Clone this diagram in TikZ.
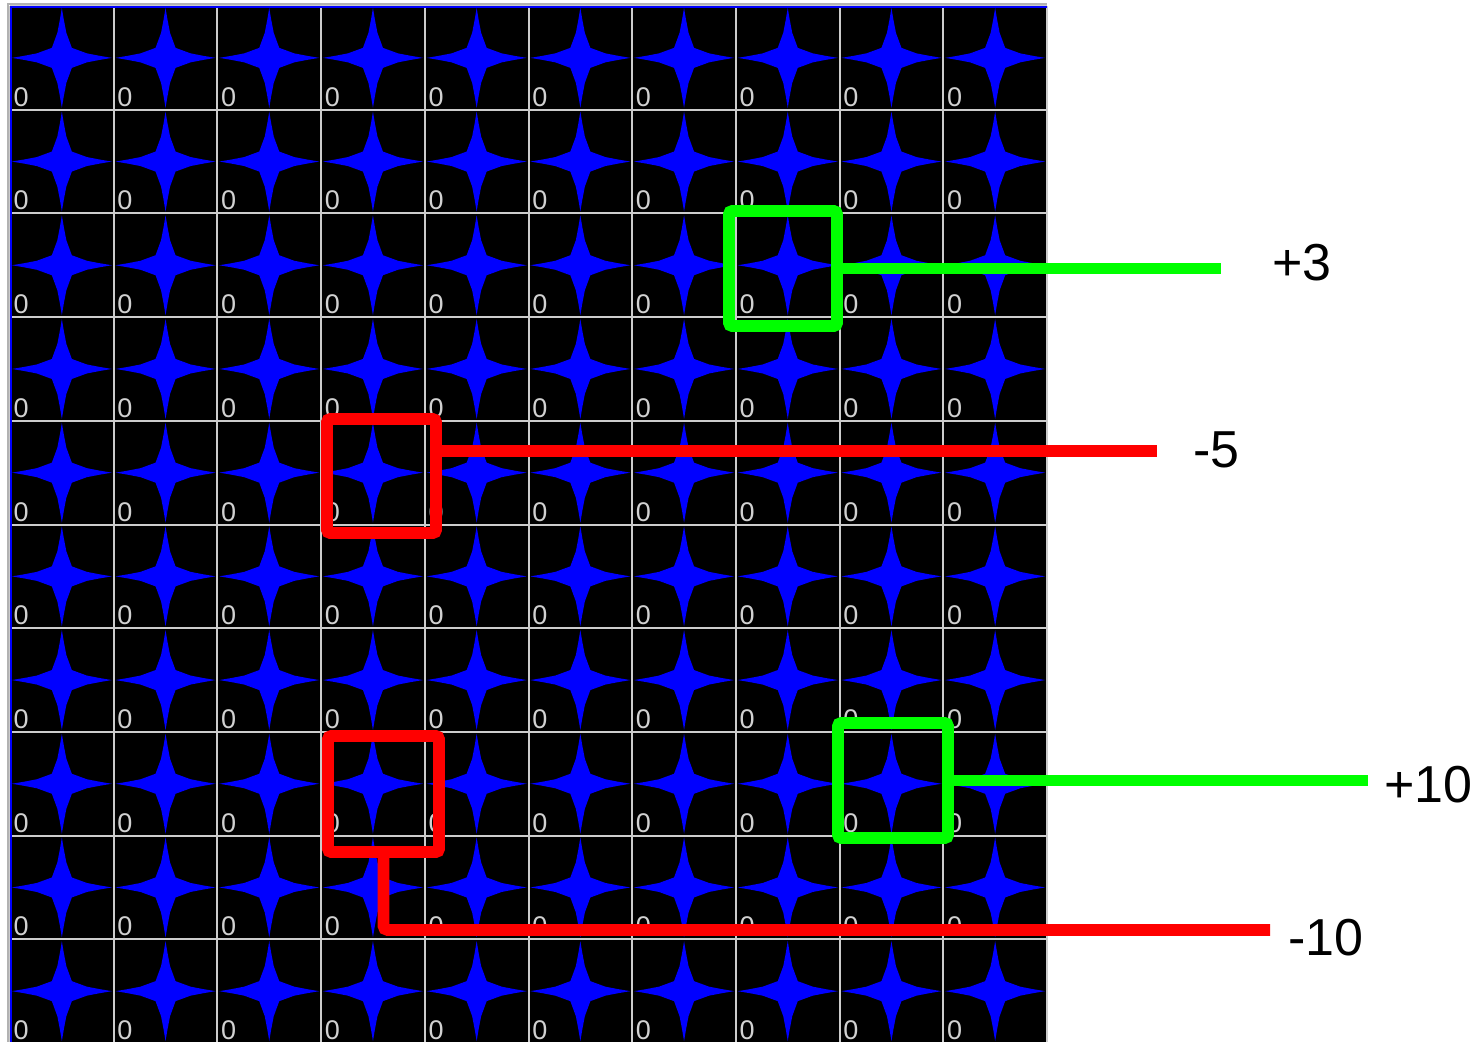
\documentclass[tikz,border=0pt]{standalone}
\usepackage{fontspec}
\setmainfont{Liberation Sans}
\usetikzlibrary{positioning,calc}

\begin{document}
\begin{tikzpicture}[x=0.5pt,y=-0.5pt,
  gridline/.style={draw=black!20,line width=1pt},
  spark/.style={fill=blue},
  zero/.style={anchor=south west,inner sep=0pt,text=black!18,font=\fontsize{13.5}{13.5}\selectfont},
  hit/.style={draw,line width=5.8pt,rounded corners=1.5pt,inner sep=0pt,outer sep=0pt},
  good/.style={hit,draw=green},
  bad/.style={hit,draw=red},
  lead/.style={line width=5.8pt},
  score/.style={anchor=west,inner sep=0pt,font=\fontsize{26}{26}\selectfont}]
\useasboundingbox (0,0) rectangle (1479,1041);
\clip (0,0) rectangle (1479,1041);
% board
\fill[black] (10,6) rectangle (1047,1045);
\foreach \c in {0,...,9}
  \foreach \r in {0,...,9}{
    \pgfmathsetmacro{\cx}{10+103.7*\c+51.85}
    \pgfmathsetmacro{\cy}{6+103.7*\r+51.85}
    \fill[spark,shift={(\cx,\cy)}] (0,-50) -- (2,-38) -- (4.5,-25) -- (10,-10) -- (25,-4.5) -- (38,-2) -- (50,0)
      -- (38,2) -- (25,4.5) -- (10,10) -- (4.5,25) -- (2,38) -- (0,50)
      -- (-2,38) -- (-4.5,25) -- (-10,10) -- (-25,4.5) -- (-38,2) -- (-50,0)
      -- (-38,-2) -- (-25,-4.5) -- (-10,-10) -- (-4.5,-25) -- (-2,-38) -- cycle;
    \node[zero] (z-\c-\r) at (\cx-48.5,\cy+49) {0};
  }
\foreach \i in {0,...,10}{
  \draw[gridline] (10+103.7*\i,6) -- (10+103.7*\i,1045);
  \draw[gridline] (10,6+103.7*\i) -- (1047,6+103.7*\i);
}
\draw[black!30,line width=0.8pt] (8,1045) -- (8,4) -- (1047,4);
\draw[blue,line width=1pt] (10.5,1045) -- (10.5,6.5) -- (1047,6.5);
% marked cells
\node[good,minimum width=54pt,minimum height=57.5pt] (gA) at (783,268.5) {};
\node[bad,minimum width=54.5pt,minimum height=57pt] (rA) at (381.5,476) {};
\node[bad,minimum width=55.5pt,minimum height=58pt] (rB) at (383.5,794) {};
\node[good,minimum width=55pt,minimum height=57.5pt] (gB) at (893,780.5) {};
% scores
\node[score] (sA) at (1272,263) {+3};
\node[score] (sB) at (1193,450) {-5};
\node[score] (sD) at (1384,785) {+10};
\node[score] (sC) at (1288,938) {-10};
\coordinate (gAend) at (1221,268);
\coordinate (rAend) at (1157,451);
\coordinate (gBend) at (1368,780);
\coordinate (rBend) at (1270,930);
\draw[lead,green] (gA.east) -- (gA.east -| gAend);
\draw[lead,red] (rAend -| rA.east) -- (rAend);
\draw[lead,green] (gB.east) -- (gB.east -| gBend);
\draw[lead,red,rounded corners=2pt] (rB.south) |- (rBend);
\end{tikzpicture}
\end{document}
